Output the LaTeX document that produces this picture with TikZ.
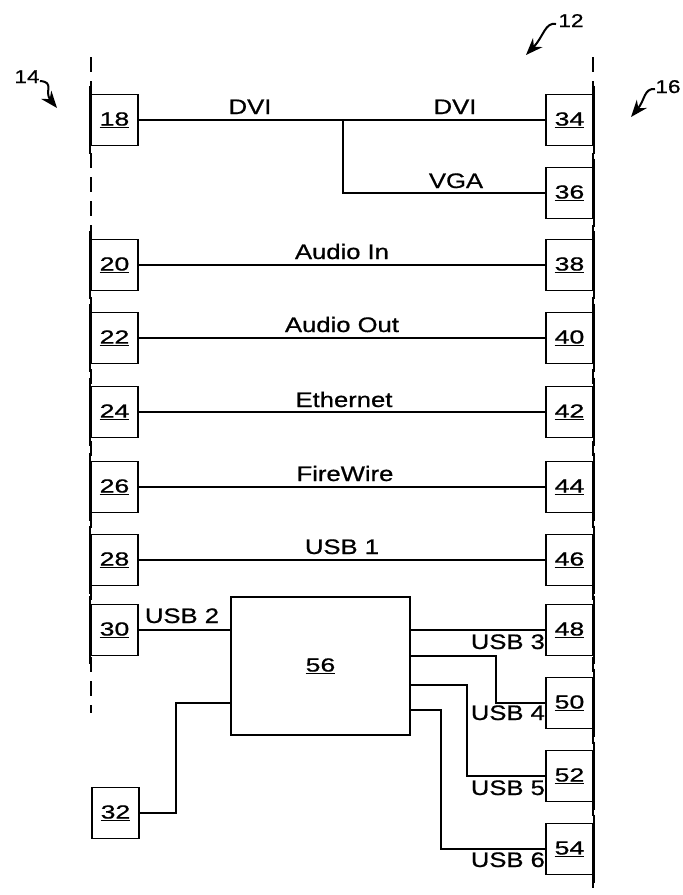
\documentclass[tikz,border=0pt]{standalone}
\usepackage{fontspec}
\setmainfont{Liberation Sans}[FakeBold=0.7]
\usetikzlibrary{arrows.meta,calc}
\newcommand{\mylbl}[1]{\scalebox{1.22}[1]{#1}}
\newcommand{\mynum}[1]{\scalebox{1.4}[1]{\underline{#1}}}
\begin{document}
\begin{tikzpicture}[x=1pt,y=-1pt,font=\fontsize{21}{23}\selectfont,
  box/.style={draw,line width=1.8pt,minimum width=47pt,minimum height=51pt,inner sep=0pt,font=\fontsize{19}{21}\selectfont},
  wire/.style={line width=1.4pt},
  bus/.style={line width=1.6pt,dash pattern=on 15pt off 9pt},
  lbl/.style={inner sep=0pt,anchor=base},
  rlbl/.style={inner sep=0pt,anchor=base east},
  refarrow/.style={line width=2pt,-{Stealth[length=17pt,width=13pt]}}]
\useasboundingbox (0,0) rectangle (683,895);
% dashed buses
\draw[bus] (91,57) -- (91,713);
\draw[bus] (593,57) -- (593,895);
% left boxes
\node[box] (b18) at (114.5,120) {\mynum{18}};
\node[box] (b20) at (114.5,265) {\mynum{20}};
\node[box] (b22) at (114.5,338) {\mynum{22}};
\node[box] (b24) at (114.5,412) {\mynum{24}};
\node[box] (b26) at (114.5,487) {\mynum{26}};
\node[box] (b28) at (114.5,560) {\mynum{28}};
\node[box] (b30) at (114.5,630) {\mynum{30}};
\node[box] (b32) at (115.5,813) {\mynum{32}};
% right boxes
\node[box] (b34) at (569.5,120) {\mynum{34}};
\node[box] (b36) at (569.5,193) {\mynum{36}};
\node[box] (b38) at (569.5,265) {\mynum{38}};
\node[box] (b40) at (569.5,338) {\mynum{40}};
\node[box] (b42) at (569.5,412) {\mynum{42}};
\node[box] (b44) at (569.5,487) {\mynum{44}};
\node[box] (b46) at (569.5,560) {\mynum{46}};
\node[box] (b48) at (569.5,630) {\mynum{48}};
\node[box] (b50) at (569.5,703) {\mynum{50}};
\node[box] (b52) at (569.5,776) {\mynum{52}};
\node[box] (b54) at (569.5,849) {\mynum{54}};
% hub
\node[box,minimum width=179pt,minimum height=138pt] (b56) at (320.5,666) {\mynum{56}};
% solid extensions of outer edges
\foreach \b in {b18,b20,b22,b24,b26,b28,b30}
  \draw[line width=1.8pt] ([yshift=8pt]\b.north west) -- ([yshift=-8pt]\b.south west);
\foreach \b in {b34,b36,b38,b40,b42,b44,b46,b48,b50,b52,b54}
  \draw[line width=1.8pt] ([yshift=8pt]\b.north east) -- ([yshift=-8pt]\b.south east);
% connectors
\draw[wire] (b18) -- (b34);
\coordinate (vj) at (343,120);
\draw[wire] (vj) |- (b36.west);
\draw[wire] (b20) -- (b38);
\draw[wire] (b22) -- (b40);
\draw[wire] (b24) -- (b42);
\draw[wire] (b26) -- (b44);
\draw[wire] (b28) -- (b46);
\draw[wire] (b30.east) -- (b56.west |- b30.east);
\draw[wire] (b56.east |- b48.west) -- (b48.west);
\draw[wire] ([yshift=10pt]b56.east) -- ++(85,0) |- (b50.west);
\draw[wire] ([yshift=-19pt]b56.east) -- ++(56,0) |- (b52.west);
\draw[wire] ([yshift=-44pt]b56.east) -- ++(30,0) |- (b54.west);
\draw[wire] (b32.east) -- ++(36,0) |- ([yshift=-37pt]b56.west);
% labels
\node[lbl] (tdvi1) at (250,114) {\mylbl{DVI}};
\node[lbl] (tdvi2) at (455,114) {\mylbl{DVI}};
\node[lbl] (tvga) at (456,188) {\mylbl{VGA}};
\node[lbl] (tai) at (342,259) {\mylbl{Audio In}};
\node[lbl] (tao) at (342,332) {\mylbl{Audio Out}};
\node[lbl] (tet) at (344,407) {\mylbl{Ethernet}};
\node[lbl] (tfw) at (345,481) {\mylbl{FireWire}};
\node[lbl] (tu1) at (342,554) {\mylbl{USB 1}};
\node[lbl] (tu2) at (182,623) {\mylbl{USB 2}};
\node[rlbl] (tu3) at ([yshift=-19pt]b48.west) {\mylbl{USB 3}};
\node[rlbl] (tu4) at ([yshift=-17pt]b50.west) {\mylbl{USB 4}};
\node[rlbl] (tu5) at ([yshift=-19pt]b52.west) {\mylbl{USB 5}};
\node[rlbl] (tu6) at ([yshift=-18pt]b54.west) {\mylbl{USB 6}};
% reference numerals
\node[lbl,font=\fontsize{18.5}{20}\selectfont] (r12) at (571,27) {\mylbl{12}};
\coordinate (r12a) at (556,24);
\coordinate (r12b) at (526,55);
\draw[refarrow] (r12a) .. controls (545,22) and (544,36) .. (r12b);
\node[lbl,font=\fontsize{18.5}{20}\selectfont] (r14) at (27,83) {\mylbl{14}};
\coordinate (r14a) at (40,81);
\coordinate (r14b) at (57,108);
\draw[refarrow] (r14a) .. controls (55,82) and (44,92) .. (r14b);
\node[lbl,font=\fontsize{18.5}{20}\selectfont] (r16) at (668,93) {\mylbl{16}};
\coordinate (r16a) at (655,89);
\coordinate (r16b) at (631,117);
\draw[refarrow] (r16a) .. controls (644,88) and (645,100) .. (r16b);
\end{tikzpicture}
\end{document}
